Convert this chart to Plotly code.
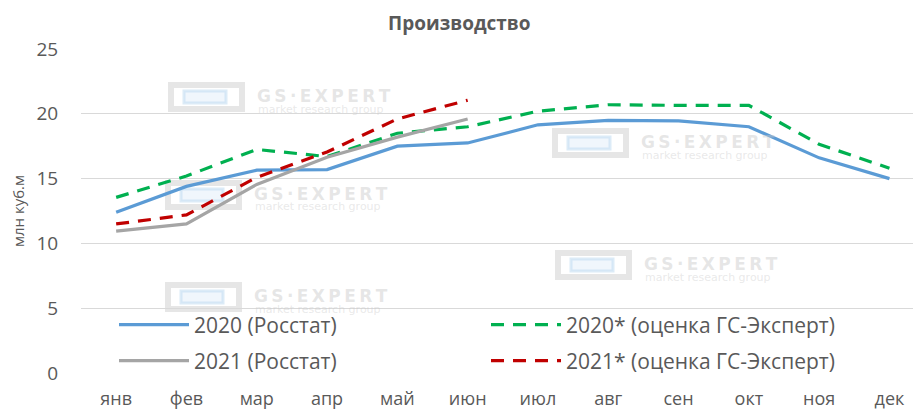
import plotly.graph_objects as go

months = ["янв", "фев", "мар", "апр", "май", "июн", "июл", "авг", "сен", "окт", "ноя", "дек"]
rosstat_2020 = [12.4, 14.4, 15.65, 15.7, 17.5, 17.75, 19.15, 19.5, 19.45, 19.0, 16.6, 15.0]
expert_2020 = [13.55, 15.2, 17.25, 16.7, 18.5, 19.0, 20.2, 20.7, 20.65, 20.65, 17.65, 15.8]
rosstat_2021 = [10.95, 11.5, 14.55, 16.65, 18.2, 19.6]
expert_2021 = [11.5, 12.2, 15.1, 17.05, 19.6, 21.05]

W, H = 913, 413
L, R, T, B = 81, 0, 49, 40
PW, PH = W - L - R, H - T - B

def px(x):
    return (x - L) / PW

def py(y):
    return (H - B - y) / PH

FONT = "Open Sans"
GREY_TXT = "#595959"

fig = go.Figure()
fig.add_trace(go.Scatter(x=months, y=rosstat_2020, mode="lines", name="2020 (Росстат)",
                         line=dict(color="#5B9BD5", width=3.2), legend="legend"))
fig.add_trace(go.Scatter(x=months, y=expert_2020, mode="lines", name="2020* (оценка ГС-Эксперт)",
                         line=dict(color="#00B050", width=3.2, dash="13px,9px"), legend="legend2"))
fig.add_trace(go.Scatter(x=months[:len(rosstat_2021)], y=rosstat_2021, mode="lines", name="2021 (Росстат)",
                         line=dict(color="#A5A5A5", width=3.2), legend="legend3"))
fig.add_trace(go.Scatter(x=months[:len(expert_2021)], y=expert_2021, mode="lines", name="2021* (оценка ГС-Эксперт)",
                         line=dict(color="#C00000", width=3.2, dash="13px,9px"), legend="legend4"))

# watermark logos (decorative)
logos = [(168, 82), (165, 180), (552, 128), (165, 282), (555, 250)]
shapes = []
annotations = []
TS = "\u2009"
wm_big = "<b>" + TS.join("GS·EXPERT") + "</b>"
for (lx, ly) in logos:
    shapes.append(dict(type="rect", xref="paper", yref="paper", layer="below",
                       x0=px(lx + 3), x1=px(lx + 74), y0=py(ly + 27), y1=py(ly + 3),
                       line=dict(color="rgba(205,205,205,0.5)", width=6),
                       fillcolor="rgba(255,255,255,0)"))
    shapes.append(dict(type="rect", xref="paper", yref="paper", layer="below",
                       x0=px(lx + 16), x1=px(lx + 58), y0=py(ly + 21), y1=py(ly + 9),
                       line=dict(color="rgba(185,215,240,0.5)", width=3),
                       fillcolor="rgba(225,238,250,0.5)"))
    annotations.append(dict(text=wm_big, xref="paper", yref="paper",
                            x=px(lx + 87), y=py(ly + 14), xanchor="left", yanchor="middle",
                            showarrow=False, font=dict(family="DejaVu Sans", size=17,
                                                       color="rgba(200,200,200,0.45)")))
    annotations.append(dict(text="market research group", xref="paper", yref="paper",
                            x=px(lx + 88), y=py(ly + 27), xanchor="left", yanchor="middle",
                            showarrow=False, font=dict(family="DejaVu Sans", size=11,
                                                       color="rgba(200,200,200,0.4)")))

annotations.append(dict(text="<b>Производство</b>", xref="paper", yref="paper",
                        x=px(459), y=py(23), xanchor="center", yanchor="middle",
                        showarrow=False, font=dict(family=FONT, size=19, color=GREY_TXT)))

legend_common = dict(orientation="h", xanchor="left", yanchor="middle",
                     bgcolor="rgba(255,255,255,0)", itemwidth=70,
                     font=dict(family=FONT, size=21, color=GREY_TXT))

def leg(text_x, text_y):
    return dict(x=px(text_x - 81), y=py(text_y), **legend_common)

fig.update_layout(
    width=W, height=H,
    margin=dict(l=L, r=R, t=T, b=B, pad=0),
    paper_bgcolor="white", plot_bgcolor="white",
    showlegend=True,
    legend=leg(195, 325),
    legend2=leg(567, 325),
    legend3=leg(195, 361),
    legend4=leg(567, 361),
    xaxis=dict(type="category", range=[-0.5, -0.5 + PW / 70.3], showgrid=False, zeroline=False,
               showline=False, ticks="outside", ticklen=9, tickcolor="rgba(0,0,0,0)",
               automargin=False,
               tickfont=dict(family=FONT, size=18, color=GREY_TXT)),
    yaxis=dict(range=[0, 25], dtick=5, showgrid=True, gridcolor="#D9D9D9", gridwidth=1,
               zeroline=False, showline=False, ticks="outside", ticklen=18,
               tickcolor="rgba(0,0,0,0)", automargin=False,
               tickfont=dict(family=FONT, size=19, color=GREY_TXT),
               title=dict(text="млн куб.м", standoff=8,
                          font=dict(family=FONT, size=15, color=GREY_TXT))),
    shapes=shapes,
    annotations=annotations,
)

fig.write_html("out.html", config={"displayModeBar": False},
               post_script="document.body.style.margin='0';")
